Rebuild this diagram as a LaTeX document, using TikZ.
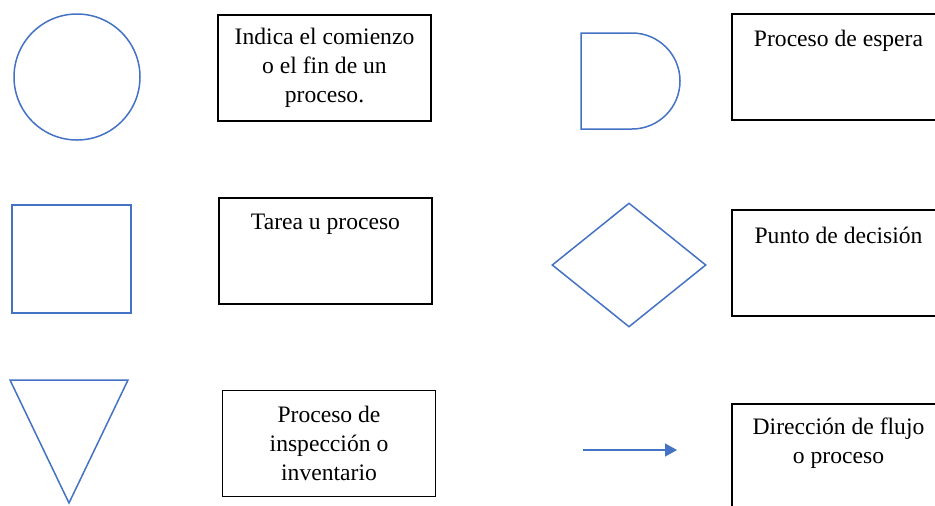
\documentclass[tikz,border=0pt]{standalone}
\usepackage{fontspec}
\setmainfont{Liberation Serif}
\usetikzlibrary{shapes.geometric,arrows.meta}

\definecolor{azul}{RGB}{68,114,196}

\begin{document}
\begin{tikzpicture}[x=0.5pt, y=-0.5pt,
    forma/.style={draw=azul, line width=0.75pt},
    caja/.style={draw=black, line width=0.75pt, minimum width=106.5pt, minimum height=53pt, inner sep=0pt},
    texto/.style={font=\fontsize{11.8}{14.5}\selectfont, align=center, inner sep=0pt}]
      \useasboundingbox (0,0) rectangle (935,505);
      \clip (0,0) rectangle (935,505);
      % simbolos
      \node[forma, circle, minimum size=63pt, inner sep=0pt] (inicio) at (77,77) {};
      \node[forma, rectangle, minimum width=59.5pt, minimum height=54pt, inner sep=0pt] (tarea) at (71.5,259) {};
      \draw[forma] (10,380) -- (128,380) -- (69,503) -- cycle;
      \draw[forma] (632,33) -- (581,33) -- (581,129) -- (632,129) arc (90:-90:48) -- cycle;
      \node[forma, diamond, minimum width=77pt, minimum height=62pt, inner sep=0pt] (decision) at (629,265) {};
      \coordinate (flujoA) at (583,450);
      \coordinate (flujoB) at (677,450);
      \draw[forma, -{Triangle[length=6pt, width=6.5pt]}] (flujoA) -- (flujoB);
      % cajas de texto
      \node[caja, texto] (cInicio) at (324.5,68) {Indica el comienzo\\o el fin de un\\proceso.};
      \node[caja] (cTarea) at (325.5,251) {};
      \node[caja, texto] (cInspeccion) at (329,443.5) {Proceso de\\inspección o\\inventario};
      \node[caja] (cEspera) at (838.5,67) {};
      \node[caja] (cDecision) at (838.5,263) {};
      \node[caja] (cFlujo) at (838.5,457) {};
      \node[texto] (tTarea) at ([yshift=-13.5pt]cTarea.north) {Tarea u proceso};
      \node[texto] (tEspera) at ([yshift=-14pt]cEspera.north) {Proceso de espera};
      \node[texto] (tDecision) at ([yshift=-13pt]cDecision.north) {Punto de decisión};
      \node[texto] (tFlujo) at ([yshift=-20pt]cFlujo.north) {Dirección de flujo\\o proceso};
    \end{tikzpicture}
\end{document}
